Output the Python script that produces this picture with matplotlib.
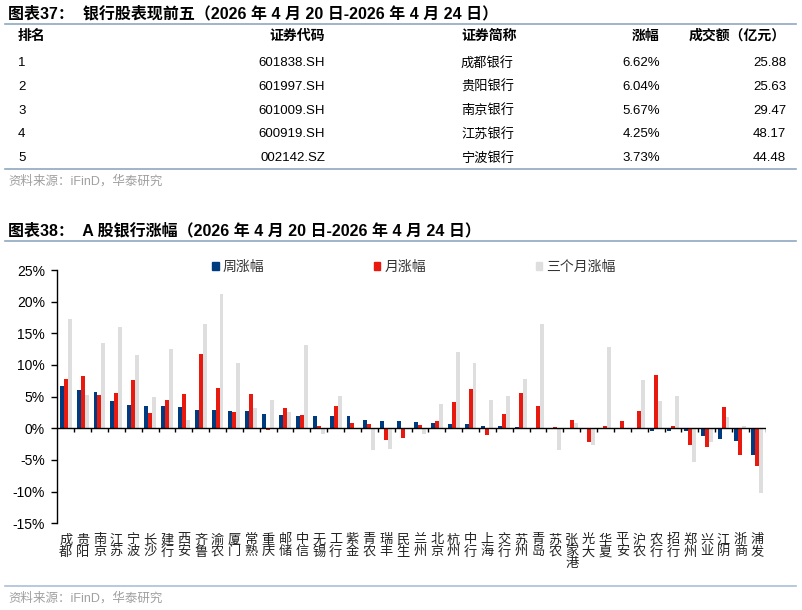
import matplotlib
matplotlib.use('Agg')
import matplotlib.pyplot as plt
from matplotlib.patches import Patch
from matplotlib.lines import Line2D

plt.rcParams['font.family'] = ['Liberation Sans', 'Noto Sans CJK SC']

W, H = 802, 610

# Table 37 data
ranks = ['1', '2', '3', '4', '5']
codes = ['601838.SH', '601997.SH', '601009.SH', '600919.SH', '002142.SZ']
names = ['成都银行', '贵阳银行', '南京银行', '江苏银行', '宁波银行']
pct_chg = ['6.62%', '6.04%', '5.67%', '4.25%', '3.73%']
turnover = ['25.88', '25.63', '29.47', '48.17', '44.48']

# Chart 38 data (%)
banks = ['成都', '贵阳', '南京', '江苏', '宁波', '长沙', '建行', '西安', '齐鲁', '渝农',
         '厦门', '常熟', '重庆', '邮储', '中信', '无锡', '工行', '紫金', '青农', '瑞丰',
         '民生', '兰州', '北京', '杭州', '中行', '上海', '交行', '苏州', '青岛', '苏农',
         '张家港', '光大', '华夏', '平安', '沪农', '农行', '招行', '郑州', '兴业', '江阴',
         '浙商', '浦发']
week = [6.62, 6.04, 5.67, 4.25, 3.73, 3.58, 3.50, 3.37, 2.95, 2.90,
        2.80, 2.76, 2.33, 2.12, 1.95, 1.95, 1.92, 1.90, 1.30, 1.15,
        1.10, 0.95, 0.80, 0.74, 0.68, 0.32, 0.30, 0.15, 0.08, 0.05,
        0.03, -0.02, -0.05, -0.08, -0.15, -0.35, -0.35, -0.50, -1.20, -1.74,
        -2.05, -4.16]
month = [7.78, 8.26, 5.26, 5.50, 7.58, 2.37, 4.47, 5.37, 11.70, 6.30,
         2.62, 5.40, -0.25, 3.16, 2.05, 0.37, 3.55, 0.77, 0.68, -1.85,
         -1.60, 0.47, 1.10, 4.16, 6.26, -1.00, 2.30, 5.63, 3.58, 0.15,
         1.37, -2.16, 0.42, 1.10, 2.70, 8.37, 0.37, -2.70, -2.90, 3.42,
         -4.16, -5.95]
three_month = [17.2, 5.3, 13.45, 16.05, 11.5, 4.95, 12.6, 1.3, 16.5, 21.2,
               10.3, 3.2, 4.4, 2.58, 13.2, -0.88, 5.1, 0.0, -3.5, -3.3,
               -0.15, -0.95, 3.84, 12.05, 10.3, 4.47, 5.16, 7.8, 16.4, -3.4,
               0.9, -2.6, 12.8, 0.0, 7.6, 4.37, 5.1, -5.3, -2.16, 1.8,
               0.37, -10.2]
yticks = [-15, -10, -5, 0, 5, 10, 15, 20, 25]

BLUE = '#003B80'
RED = '#E8190E'
GRAY = '#DEDEDE'
LINE = '#8FA8C0'
SRC = '#A0A0A0'


def fx(x):
    return x / W


def fy(y):
    return 1 - y / H


fig = plt.figure(figsize=(W / 100, H / 100), dpi=100)

# ---- Table 37 ----
fig.text(fx(8), fy(13.5), '图表37：  银行股表现前五（2026 年 4 月 20 日-2026 年 4 月 24 日）',
         fontsize=11.5, fontweight='bold', va='center', ha='left')
fig.add_artist(Line2D([fx(5), fx(796)], [fy(23.5)] * 2, color=LINE, lw=1.2))

hy = 36
fig.text(fx(18), fy(hy), '排名', fontsize=10, fontweight='bold', va='center', ha='left')
fig.text(fx(325), fy(hy), '证券代码', fontsize=10, fontweight='bold', va='center', ha='right')
fig.text(fx(461), fy(hy), '证券简称', fontsize=10, fontweight='bold', va='center', ha='left')
fig.text(fx(660), fy(hy), '涨幅', fontsize=10, fontweight='bold', va='center', ha='right')
fig.text(fx(786), fy(hy), '成交额（亿元）', fontsize=10, fontweight='bold', va='center', ha='right')

for i in range(len(ranks)):
    ry = 63 + i * 23.8
    fig.text(fx(18), fy(ry), ranks[i], fontsize=9.5, va='center', ha='left')
    fig.text(fx(325), fy(ry), codes[i], fontsize=9.5, va='center', ha='right')
    fig.text(fx(461), fy(ry), names[i], fontsize=9.5, va='center', ha='left')
    fig.text(fx(660), fy(ry), pct_chg[i], fontsize=9.5, va='center', ha='right')
    fig.text(fx(786), fy(ry), turnover[i], fontsize=9.5, va='center', ha='right')

fig.add_artist(Line2D([fx(5), fx(796)], [fy(168.5)] * 2, color=LINE, lw=1.2))
fig.text(fx(8), fy(181.5), '资料来源：iFinD，华泰研究', fontsize=9, color=SRC, va='center', ha='left')

# ---- Chart 38 ----
fig.text(fx(8), fy(231), '图表38：  A 股银行涨幅（2026 年 4 月 20 日-2026 年 4 月 24 日）',
         fontsize=11.5, fontweight='bold', va='center', ha='left')
fig.add_artist(Line2D([fx(5), fx(796)], [fy(241)] * 2, color=LINE, lw=1.2))

ax_l, ax_r, ax_t, ax_b = 57.3, 765.7, 270, 523.3
ax = fig.add_axes([fx(ax_l), fy(ax_b), (ax_r - ax_l) / W, (ax_b - ax_t) / H])

x = list(range(len(banks)))
bw = 0.235
ax.bar([i - bw for i in x], week, width=bw, color=BLUE, label='周涨幅', zorder=3)
ax.bar(x, month, width=bw, color=RED, label='月涨幅', zorder=3)
ax.bar([i + bw for i in x], three_month, width=bw, color=GRAY, label='三个月涨幅', zorder=2)

ax.set_xlim(-0.5, len(banks) - 0.5)
ax.set_ylim(-15, 25)
ax.set_yticks(yticks)
ax.set_yticklabels([f'{t}%' for t in yticks], fontsize=10)
ax.tick_params(axis='y', direction='out', length=4, width=1, pad=5)

ax.set_xticks(x)
ax.set_xticklabels(['\n'.join(b) for b in banks], fontsize=9.5, linespacing=0.95, color='#222222')
ax.tick_params(axis='x', length=0, pad=8)

for s in ['top', 'right', 'bottom']:
    ax.spines[s].set_visible(False)
ax.spines['left'].set_linewidth(1)
ax.axhline(0, color='black', lw=1, zorder=4)
ax.vlines([i + 0.5 for i in x], -0.6, 0, color='black', lw=1, zorder=4)

handles = [Patch(color=BLUE), Patch(color=RED), Patch(color=GRAY)]
fig.legend(handles, ['周涨幅', '月涨幅', '三个月涨幅'], loc='center',
           bbox_to_anchor=(fx(414), fy(267)), ncol=3, frameon=False, fontsize=10,
           handlelength=0.45, handleheight=0.45, handletextpad=0.3, columnspacing=7.9,
           labelcolor='#333333')

fig.add_artist(Line2D([fx(5), fx(796)], [fy(585.5)] * 2, color='#A9C0D9', lw=1.2))
fig.text(fx(8), fy(598), '资料来源：iFinD，华泰研究', fontsize=9, color=SRC, va='center', ha='left')

fig.savefig('out.png', dpi=100)
